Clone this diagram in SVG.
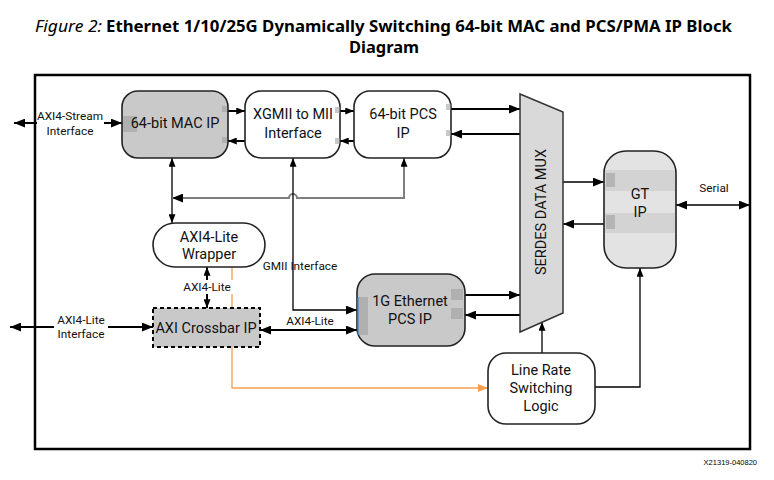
<svg xmlns="http://www.w3.org/2000/svg" width="774" height="480" viewBox="0 0 774 480">
<defs>
<style>
.t{font-family:Roboto,"Liberation Sans",sans-serif;fill:#111;text-anchor:middle}
.n{font-size:14.5px}
.s{font-size:11.8px}
.box{stroke:#222;stroke-width:1.6}
.gray{fill:#c9c9c9}
.white{fill:#fff}
.ln{fill:none;stroke:#000;stroke-width:2}
.thin{fill:none;stroke:#000;stroke-width:1.3}
.port{fill:#9a9a9a;opacity:0.55}
</style>
<marker id="ah" viewBox="0 0 10 8" refX="10" refY="4" markerWidth="11" markerHeight="9" markerUnits="userSpaceOnUse" orient="auto-start-reverse"><path d="M0,0 L10,4 L0,8 z" fill="#000"/></marker>
<marker id="ahs" viewBox="0 0 10 8" refX="10" refY="4" markerWidth="9" markerHeight="7" markerUnits="userSpaceOnUse" orient="auto-start-reverse"><path d="M0,0 L10,4 L0,8 z" fill="#000"/></marker>
<marker id="aho" viewBox="0 0 10 8" refX="10" refY="4" markerWidth="10" markerHeight="8" markerUnits="userSpaceOnUse" orient="auto"><path d="M0,0 L10,4 L0,8 z" fill="#f5a050"/></marker>
</defs>
<rect width="774" height="480" fill="#fff"/>
<g id="title" font-family="'Noto Sans','Open Sans',sans-serif" font-size="16.5" fill="#000">
<text x="35" y="32" font-style="italic" textLength="67" lengthAdjust="spacingAndGlyphs">Figure 2:</text>
<text x="106" y="32" font-weight="bold" textLength="626" lengthAdjust="spacingAndGlyphs">Ethernet 1/10/25G Dynamically Switching 64-bit MAC and PCS/PMA IP Block</text>
<text x="349" y="53" font-weight="bold" textLength="70" lengthAdjust="spacingAndGlyphs">Diagram</text>
</g>
<rect id="frame" x="35" y="75" width="715" height="374" fill="none" stroke="#000" stroke-width="2.5"/>
<g id="connectors">
<line class="ln" x1="14" y1="123" x2="122" y2="123" marker-start="url(#ah)" marker-end="url(#ah)"/>
<line class="ln" x1="228" y1="111" x2="245" y2="111" marker-end="url(#ahs)"/>
<line class="ln" x1="245" y1="141" x2="228" y2="141" marker-end="url(#ahs)"/>
<line class="ln" x1="340" y1="111" x2="354" y2="111" marker-end="url(#ahs)"/>
<line class="ln" x1="354" y1="141" x2="340" y2="141" marker-end="url(#ahs)"/>
<line class="ln" x1="451" y1="109" x2="520" y2="109" marker-end="url(#ah)"/>
<line class="ln" x1="520" y1="134" x2="451" y2="134" marker-end="url(#ah)"/>
<line class="ln" x1="465" y1="295" x2="520" y2="295" marker-end="url(#ah)"/>
<line class="ln" x1="520" y1="315" x2="465" y2="315" marker-end="url(#ah)"/>
<line class="thin" x1="563" y1="182" x2="604" y2="182" marker-end="url(#ah)"/>
<line class="thin" x1="604" y1="224" x2="563" y2="224" marker-end="url(#ah)"/>
<line class="thin" x1="676" y1="205" x2="750" y2="205" marker-start="url(#ah)" marker-end="url(#ah)"/>
<line class="thin" x1="542" y1="353" x2="542" y2="322" marker-end="url(#ahs)"/>
<path class="thin" d="M595,387 H640 V268" marker-end="url(#ahs)"/>
<path d="M232,267 V388 H488" fill="none" stroke="#f5a050" stroke-width="1.3" marker-end="url(#aho)"/>
<line class="thin" x1="172" y1="158" x2="172" y2="223" marker-start="url(#ahs)" marker-end="url(#ahs)"/>
<path d="M404,158 V198 H297 A4,4 0 0 0 289,198 H172" fill="none" stroke="#7f7f7f" stroke-width="2" marker-start="url(#ahs)" marker-end="url(#ah)"/>
<path class="thin" d="M293,158 V310 H357" marker-start="url(#ahs)" marker-end="url(#ah)"/>
<line class="ln" x1="207" y1="267" x2="207" y2="308" marker-start="url(#ahs)" marker-end="url(#ahs)"/>
<line class="ln" x1="10" y1="327" x2="153" y2="327" marker-start="url(#ah)" marker-end="url(#ah)"/>
<line class="ln" x1="260" y1="330" x2="357" y2="330" marker-start="url(#ah)" marker-end="url(#ah)"/>
</g>
<g id="labels">
<rect x="37" y="108" width="67" height="31" fill="#fff"/>
<text class="t s" x="70" y="120">AXI4-Stream</text>
<text class="t s" x="70" y="135">Interface</text>
<rect x="54" y="312" width="54" height="29" fill="#fff"/>
<text class="t s" x="81" y="324">AXI4-Lite</text>
<text class="t s" x="81" y="338">Interface</text>
<rect x="180" y="280" width="54" height="14" fill="#fff"/>
<text class="t s" x="207" y="291">AXI4-Lite</text>
<text class="t s" x="310" y="325">AXI4-Lite</text>
<text class="t s" x="300" y="270">GMII Interface</text>
<text class="t s" x="714" y="192">Serial</text>
</g>
<g id="mac">
<rect class="box gray" x="122" y="91" width="106" height="67" rx="16"/>
<rect class="port" x="123" y="116" width="14" height="16"/>
<rect class="port" x="222" y="106" width="5" height="6"/>
<rect class="port" x="222" y="137" width="5" height="6"/>
<text class="t n" x="175" y="128">64-bit MAC IP</text>
</g>
<g id="xgmii">
<rect class="box white" x="245" y="91" width="95" height="67" rx="16"/>
<rect class="port" x="335" y="107" width="5" height="6"/>
<rect class="port" x="335" y="138" width="5" height="6"/>
<text class="t n" x="293" y="119">XGMII to MII</text>
<text class="t n" x="293" y="138">Interface</text>
</g>
<g id="pcs64">
<rect class="box white" x="354" y="91" width="97" height="67" rx="16"/>
<rect class="port" x="446" y="104" width="5" height="6"/>
<rect class="port" x="446" y="130" width="5" height="6"/>
<text class="t n" x="403" y="119">64-bit PCS</text>
<text class="t n" x="403" y="138">IP</text>
</g>
<g id="mux">
<polygon points="520,94 563,112 563,313 520,332" fill="#d9d9d9" stroke="#333" stroke-width="1.5"/>
<text class="t n" transform="translate(546,212) rotate(-90)">SERDES DATA MUX</text>
</g>
<g id="gt">
<rect class="box" x="604" y="151" width="72" height="117" rx="22" fill="#e3e3e3"/>
<rect x="605" y="170" width="70" height="21" fill="#d3d3d3"/>
<rect x="605" y="213" width="70" height="20" fill="#d3d3d3"/>
<rect class="port" x="606" y="173" width="9" height="14"/>
<rect class="port" x="606" y="215" width="9" height="14"/>
<text class="t n" x="640" y="199">GT</text>
<text class="t n" x="640" y="217">IP</text>
</g>
<g id="wrapper">
<rect class="box white" x="153" y="223" width="112" height="44" rx="22"/>
<text class="t n" x="209" y="242">AXI4-Lite</text>
<text class="t n" x="209" y="259">Wrapper</text>
</g>
<g id="crossbar">
<rect x="153" y="308" width="107" height="39" fill="#c9c9c9" stroke="#000" stroke-width="2" stroke-dasharray="4,3"/>
<text class="t n" x="206" y="333">AXI Crossbar IP</text>
</g>
<g id="pcs1g">
<rect class="box gray" x="357" y="274" width="108" height="72" rx="18"/>
<rect class="port" x="358" y="297" width="10" height="38"/>
<rect x="357" y="297" width="2" height="38" fill="#4a86c5" opacity="0.6"/>
<rect class="port" x="451" y="289" width="12" height="11"/>
<rect class="port" x="451" y="308" width="12" height="11"/>
<text class="t n" x="410" y="306">1G Ethernet</text>
<text class="t n" x="410" y="324">PCS IP</text>
</g>
<g id="lrsl">
<rect class="box white" x="488" y="353" width="107" height="71" rx="18"/>
<text class="t n" x="541" y="375">Line Rate</text>
<text class="t n" x="541" y="393">Switching</text>
<text class="t n" x="541" y="411">Logic</text>
</g>
<text x="757" y="465" font-family="'Liberation Sans',sans-serif" font-size="7.5" text-anchor="end" fill="#000">X21319-040820</text>
</svg>
